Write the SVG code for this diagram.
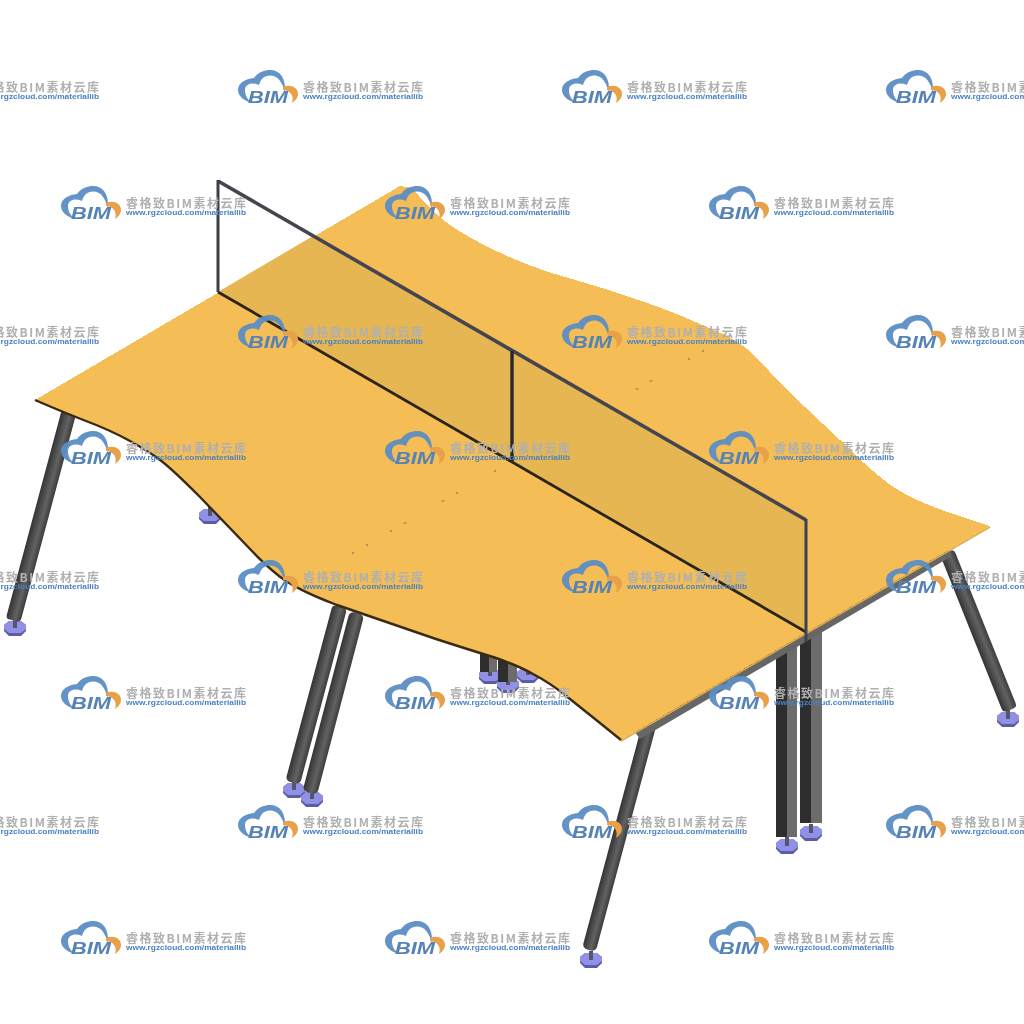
<svg xmlns="http://www.w3.org/2000/svg" width="1024" height="1024" viewBox="0 0 1024 1024">
<style>
.wt{font-family:"Noto Sans CJK SC","Liberation Sans",sans-serif;font-weight:700;font-size:12px;fill:#b0b0b0}
.wu{font-family:"Liberation Sans",sans-serif;font-weight:700;font-size:8px;fill:#4a82c4}
.wb{font-family:"Liberation Sans",sans-serif;font-weight:700;font-style:italic;font-size:16.5px;fill:#5583b8}
.sqd{fill:#2e2e2e}.sql{fill:#6c6c6c}
.leg{fill:url(#cyl)}
</style>
<defs>
<filter id="soft" x="-5%" y="-5%" width="110%" height="110%"><feGaussianBlur stdDeviation="0.35"/></filter>
<linearGradient id="cyl"><stop offset="0" stop-color="#343434"/><stop offset=".6" stop-color="#626262"/><stop offset="1" stop-color="#3c3c3c"/></linearGradient>
<g id="foot">
<polygon points="-11,-3 -6,-7 6,-7 11,-3 11,3 6,8 -6,8 -11,3" fill="#5c5ca8"/>
<polygon points="-11,-3 -6,-7 6,-7 11,-3 11,1 6,5 -6,5 -11,1" fill="#9090e4"/>
<rect x="-2" y="-9" width="4" height="9" fill="#55556f"/>
</g>
<g id="wm">
<path d="M14,33C4,30 0,25 0,20C0,13 7,9 16,8C20,2 27,0 32,0C42,0 48,8 47,22C44,12 40,5.500 32,5.500C26,5.500 23,9 21,15C14,12 7,14 7,20C7,25 9,29 14,33Z" fill="#5b8dc4" fill-opacity=".95"/>
<path d="M45,17C52,14 60,17 60,24C60,28 57,31 54,33C56,27 54,21 45,20Z" fill="#e8a048"/>
<text class="wb" x="10" y="33" textLength="40" lengthAdjust="spacingAndGlyphs">BIM</text>
<text class="wt" x="65" y="21.5" textLength="120">睿格致BIM素材云库</text>
<text class="wu" x="65" y="29" textLength="120" lengthAdjust="spacingAndGlyphs">www.rgzcloud.com/materiallib</text>
</g>
</defs>
<rect width="1024" height="1024" fill="#fff"/>
<g id="feet">
<use href="#foot" x="15" y="628"/>
<use href="#foot" x="210" y="516"/>
<use href="#foot" x="294" y="790"/>
<use href="#foot" x="312" y="799"/>
<use href="#foot" x="528" y="675"/>
<use href="#foot" x="490" y="676"/>
<use href="#foot" x="508" y="685"/>
<use href="#foot" x="591" y="960"/>
<use href="#foot" x="787" y="846"/>
<use href="#foot" x="811" y="833"/>
<use href="#foot" x="1008" y="719"/>
</g>
<g id="legs">
<rect class="leg" x="-7.500" width="15" height="220" rx="4" transform="translate(70,408) rotate(15)"/>
<rect class="leg" x="-7.500" width="15" height="183" rx="5" transform="translate(340,606) rotate(15)"/>
<rect class="leg" x="-7.500" width="15" height="186" rx="5" transform="translate(357,613) rotate(14.7)"/>
<rect class="leg" x="-7" width="14" height="236" rx="5" transform="translate(650,722) rotate(15)"/>
<rect class="leg" x="-7.500" width="15" height="170" rx="4" transform="translate(947,552) rotate(-21.8)"/>
<rect class="sqd" x="480" y="648" width="9" height="24"/><rect class="sql" x="489" y="648" width="8" height="24"/>
<rect class="sqd" x="498" y="655" width="10" height="27"/><rect class="sql" x="508" y="655" width="9" height="27"/>
<rect class="sqd" x="776" y="650" width="11" height="187"/><rect class="sql" x="787" y="645" width="10" height="192"/>
<rect class="sqd" x="800" y="636" width="11" height="187"/><rect class="sql" x="811" y="632" width="11" height="191"/>
</g>
<g id="table">
<polygon id="apron" points="634,731 948,549 952,556 640,739" fill="#666"/>
<path id="top" shape-rendering="crispEdges" d="M35,400L400,186L412,188Q433,213 450,225Q467,237 498.500,252Q530,267 565,277Q600,287 630,297Q660,307 685,317.500Q710,328 727,336Q745,345 760,361Q775,378 787,390L840,440Q880,480 900,491Q920,503 955,514.500L990,526L621,740L600,723Q580,707 565,695Q550,683 533,674Q517,665 493,657Q470,650 436,639L337,605Q297,590 279,576Q262,562 251,550L200,497Q170,467 160,460Q150,452 130,441Q110,430 86,421Q63,412 49,406Z" fill="#f4bd55"/>
<path id="front-edge" d="M621,740L600,723Q580,707 565,695Q550,683 533,674Q517,665 493,657Q470,650 436,639L337,605Q297,590 279,576Q262,562 251,550L200,497Q170,467 160,460Q150,452 130,441Q110,430 86,421Q63,412 49,406L35,400" fill="none" stroke="#3a2a10" stroke-width="2.4" stroke-linejoin="round"/>
<line id="right-edge" x1="621" y1="741" x2="990" y2="527" stroke="#e0ac48" stroke-width="1.500"/>
<g id="marks" fill="#b8975a">
<circle cx="703" cy="351" r="1.300"/><circle cx="689" cy="359" r="1.300"/><circle cx="651" cy="381" r="1.300"/><circle cx="637" cy="389" r="1.300"/><circle cx="599" cy="411" r="1.300"/><circle cx="585" cy="419" r="1.300"/><circle cx="561" cy="433" r="1.300"/><circle cx="547" cy="441" r="1.300"/><circle cx="495" cy="471" r="1.300"/><circle cx="457" cy="493" r="1.300"/><circle cx="443" cy="501" r="1.300"/><circle cx="405" cy="523" r="1.300"/><circle cx="391" cy="531" r="1.300"/><circle cx="367" cy="545" r="1.300"/><circle cx="353" cy="553" r="1.300"/>
</g>
</g>
<g id="panel">
<polygon points="218,292 313,236 806,520 806,632" fill="#e6b653"/>
<line x1="218" y1="181" x2="806" y2="520" stroke="#454550" stroke-width="3.600"/>
<line x1="218" y1="292" x2="806" y2="632" stroke="#2a2418" stroke-width="2.800"/>
<line x1="218" y1="180" x2="218" y2="292" stroke="#3c3f48" stroke-width="3"/>
<line x1="512" y1="351" x2="512" y2="461" stroke="#23272e" stroke-width="3.400"/>
<line x1="806" y1="519" x2="806" y2="642" stroke="#3c4350" stroke-width="3"/>
</g>
<g id="watermarks" filter="url(#soft)">
<use href="#wm" x="-86" y="70"/><use href="#wm" x="238" y="70"/><use href="#wm" x="562" y="70"/><use href="#wm" x="886" y="70"/>
<use href="#wm" x="61" y="186"/><use href="#wm" x="385" y="186"/><use href="#wm" x="709" y="186"/>
<use href="#wm" x="-86" y="315"/><use href="#wm" x="238" y="315"/><use href="#wm" x="562" y="315"/><use href="#wm" x="886" y="315"/>
<use href="#wm" x="61" y="431"/><use href="#wm" x="385" y="431"/><use href="#wm" x="709" y="431"/>
<use href="#wm" x="-86" y="560"/><use href="#wm" x="238" y="560"/><use href="#wm" x="562" y="560"/><use href="#wm" x="886" y="560"/>
<use href="#wm" x="61" y="676"/><use href="#wm" x="385" y="676"/><use href="#wm" x="709" y="676"/>
<use href="#wm" x="-86" y="805"/><use href="#wm" x="238" y="805"/><use href="#wm" x="562" y="805"/><use href="#wm" x="886" y="805"/>
<use href="#wm" x="61" y="921"/><use href="#wm" x="385" y="921"/><use href="#wm" x="709" y="921"/>
</g>
</svg>
